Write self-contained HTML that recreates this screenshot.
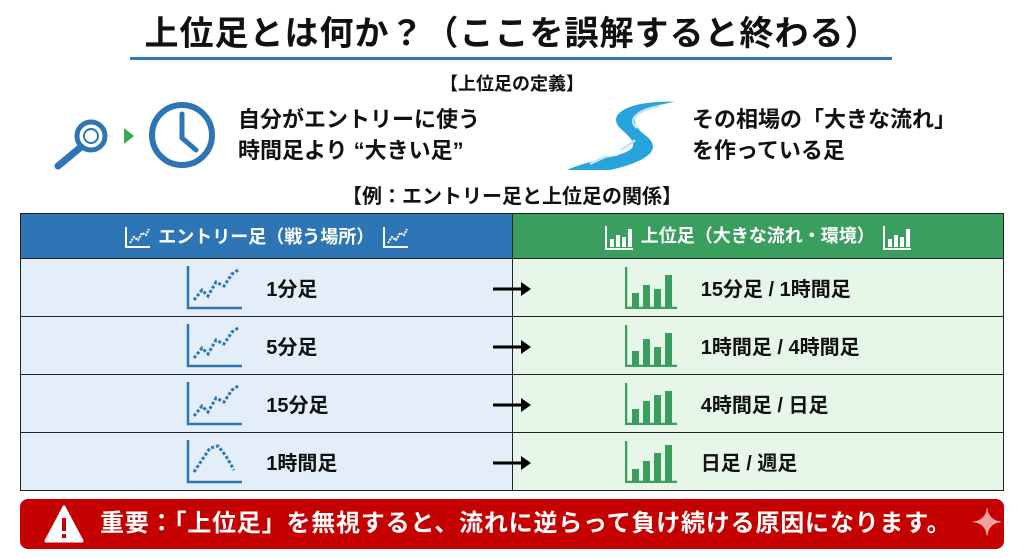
<!DOCTYPE html>
<html><head><meta charset="utf-8"><style>
*{margin:0;padding:0;box-sizing:border-box}
body{width:1024px;height:559px;background:#fff;font-family:"Liberation Sans","Noto Sans CJK JP",sans-serif;font-weight:bold;color:#111;position:relative;overflow:hidden}
.a{position:absolute;white-space:nowrap}
.title{left:0;width:1024px;top:6px;text-align:center;font-size:34px;letter-spacing:1px}
.ul{left:130px;width:762px;top:57px;height:3px;background:#2e75b6}
table{position:absolute;left:20px;top:213px;width:984px;border-collapse:collapse;table-layout:fixed}
td{border:1.5px solid #222;height:58px;font-size:20px;position:relative;white-space:nowrap}
th{height:45px;color:#fff;font-size:18px;border:1.5px solid #222;white-space:nowrap}
th svg{vertical-align:middle;margin:0 8px}
.l{background:#e3eef9;width:492px}
.r{background:#e6f7e9}
.cell{display:flex;align-items:center;justify-content:center;gap:24px}
.arr{position:absolute;left:-20px;top:20px}
</style></head><body>
<div class="a title">上位足とは何か？（ここを誤解すると終わる）</div>
<div class="a ul"></div>
<div class="a" style="left:0;width:1024px;top:70px;text-align:center;font-size:18px">【上位足の定義】</div>
<svg class="a" style="left:50px;top:98px" width="170" height="75">
<circle cx="41" cy="38" r="14" fill="#fff" stroke="#2e75b6" stroke-width="5"/><circle cx="41" cy="38" r="7" fill="none" stroke="#2e75b6" stroke-width="2"/>
<line x1="31" y1="49" x2="8" y2="68" stroke="#2e75b6" stroke-width="7" stroke-linecap="round"/>
<polygon points="74,30 84,38 74,46" fill="#3aa85c"/>
<circle cx="132" cy="37" r="30" fill="#fff" stroke="#2e75b6" stroke-width="6"/>
<polyline points="132,16 132,40 146,52" fill="none" stroke="#2e75b6" stroke-width="5" stroke-linecap="round"/>
</svg>
<div class="a" style="left:238px;top:104px;font-size:22px;line-height:31px">自分がエントリーに使う<br>時間足より “大きい足”</div>
<svg class="a" style="left:565px;top:100px" width="110" height="72">
<path d="M110,2 C70,0 40,12 55,28 C70,42 80,50 40,58 C25,62 10,66 2,70 L45,70 C80,62 100,50 80,35 C60,20 70,8 110,2Z" fill="#29a3dc"/>
<path d="M95,6 C72,10 62,20 72,28 M70,40 C60,50 40,56 25,64" fill="none" stroke="#bfe6f7" stroke-width="2.5"/>
<polygon points="38,50 58,46 52,56 42,56" fill="#fff"/>
</svg>
<div class="a" style="left:692px;top:104px;font-size:22px;line-height:31px">その相場の「大きな流れ」<br>を作っている足</div>
<div class="a" style="left:0;width:1024px;top:180px;text-align:center;font-size:20px">【例：エントリー足と上位足の関係】</div>
<table>
<tr><th style="background:#2e75b6"><svg width="26" height="22"><polyline points="2,0 2,20 26,20" fill="none" stroke="#fff" stroke-width="2"/><polyline points="6,16 10,10 14,13 18,6 22,8 25,2" fill="none" stroke="#fff" stroke-width="2" stroke-dasharray="2 1"/></svg>エントリー足（戦う場所）<svg width="26" height="22"><polyline points="2,0 2,20 26,20" fill="none" stroke="#fff" stroke-width="2"/><polyline points="6,16 10,10 14,13 18,6 22,8 25,2" fill="none" stroke="#fff" stroke-width="2" stroke-dasharray="2 1"/></svg></th><th style="background:#3a9e5f"><svg width="28" height="24"><polyline points="1,0 1,23 28,23" fill="none" stroke="#fff" stroke-width="2"/><rect x="5" y="13" width="4" height="8" fill="#fff"/><rect x="11" y="9" width="4" height="12" fill="#fff"/><rect x="17" y="11" width="4" height="10" fill="#fff"/><rect x="23" y="3" width="4" height="18" fill="#fff"/></svg>上位足（大きな流れ・環境）<svg width="28" height="24"><polyline points="1,0 1,23 28,23" fill="none" stroke="#fff" stroke-width="2"/><rect x="5" y="13" width="4" height="8" fill="#fff"/><rect x="11" y="9" width="4" height="12" fill="#fff"/><rect x="17" y="11" width="4" height="10" fill="#fff"/><rect x="23" y="3" width="4" height="18" fill="#fff"/></svg></th></tr>
<tr><td class="l"><div class="cell"><svg width="56" height="44"><polyline points="2,0 2,42 56,42" fill="none" stroke="#2e75b6" stroke-width="2.5"/><polyline points="8,34 16,24 22,30 30,16 38,20 46,8 52,4" fill="none" stroke="#2e75b6" stroke-width="3" stroke-dasharray="3 2"/></svg><span style="width:80px">1分足</span></div></td><td class="r"><svg class="arr" width="40" height="20"><line x1="0" y1="10" x2="32" y2="10" stroke="#000" stroke-width="3"/><polygon points="28,3 38,10 28,17" fill="#000"/></svg><div class="cell"><svg width="52" height="42"><polyline points="1,0 1,41 52,41" fill="none" stroke="#3a9e5f" stroke-width="2.5"/><rect x="7" y="26" width="7" height="14" fill="#3a9e5f"/><rect x="18" y="18" width="7" height="22" fill="#3a9e5f"/><rect x="29" y="22" width="7" height="18" fill="#3a9e5f"/><rect x="40" y="8" width="7" height="32" fill="#3a9e5f"/></svg><span style="width:190px">15分足 / 1時間足</span></div></td></tr>
<tr><td class="l"><div class="cell"><svg width="56" height="44"><polyline points="2,0 2,42 56,42" fill="none" stroke="#2e75b6" stroke-width="2.5"/><polyline points="8,34 16,24 22,30 30,16 38,20 46,8 52,4" fill="none" stroke="#2e75b6" stroke-width="3" stroke-dasharray="3 2"/></svg><span style="width:80px">5分足</span></div></td><td class="r"><svg class="arr" width="40" height="20"><line x1="0" y1="10" x2="32" y2="10" stroke="#000" stroke-width="3"/><polygon points="28,3 38,10 28,17" fill="#000"/></svg><div class="cell"><svg width="52" height="42"><polyline points="1,0 1,41 52,41" fill="none" stroke="#3a9e5f" stroke-width="2.5"/><rect x="7" y="26" width="7" height="14" fill="#3a9e5f"/><rect x="18" y="14" width="7" height="26" fill="#3a9e5f"/><rect x="29" y="22" width="7" height="18" fill="#3a9e5f"/><rect x="40" y="8" width="7" height="32" fill="#3a9e5f"/></svg><span style="width:190px">1時間足 / 4時間足</span></div></td></tr>
<tr><td class="l"><div class="cell"><svg width="56" height="44"><polyline points="2,0 2,42 56,42" fill="none" stroke="#2e75b6" stroke-width="2.5"/><polyline points="8,34 16,24 22,30 30,16 38,20 46,8 52,4" fill="none" stroke="#2e75b6" stroke-width="3" stroke-dasharray="3 2"/></svg><span style="width:80px">15分足</span></div></td><td class="r"><svg class="arr" width="40" height="20"><line x1="0" y1="10" x2="32" y2="10" stroke="#000" stroke-width="3"/><polygon points="28,3 38,10 28,17" fill="#000"/></svg><div class="cell"><svg width="52" height="42"><polyline points="1,0 1,41 52,41" fill="none" stroke="#3a9e5f" stroke-width="2.5"/><rect x="7" y="26" width="7" height="14" fill="#3a9e5f"/><rect x="18" y="18" width="7" height="22" fill="#3a9e5f"/><rect x="29" y="12" width="7" height="28" fill="#3a9e5f"/><rect x="40" y="8" width="7" height="32" fill="#3a9e5f"/></svg><span style="width:190px">4時間足 / 日足</span></div></td></tr>
<tr><td class="l"><div class="cell"><svg width="56" height="44"><polyline points="2,0 2,42 56,42" fill="none" stroke="#2e75b6" stroke-width="2.5"/><polyline points="8,32 16,20 24,8 32,6 40,16 48,30" fill="none" stroke="#2e75b6" stroke-width="3" stroke-dasharray="3 2"/></svg><span style="width:80px">1時間足</span></div></td><td class="r"><svg class="arr" width="40" height="20"><line x1="0" y1="10" x2="32" y2="10" stroke="#000" stroke-width="3"/><polygon points="28,3 38,10 28,17" fill="#000"/></svg><div class="cell"><svg width="52" height="42"><polyline points="1,0 1,41 52,41" fill="none" stroke="#3a9e5f" stroke-width="2.5"/><rect x="7" y="28" width="7" height="12" fill="#3a9e5f"/><rect x="18" y="20" width="7" height="20" fill="#3a9e5f"/><rect x="29" y="12" width="7" height="28" fill="#3a9e5f"/><rect x="40" y="4" width="7" height="36" fill="#3a9e5f"/></svg><span style="width:190px">日足 / 週足</span></div></td></tr>
</table>
<div class="a" style="left:20px;top:499px;width:984px;height:50px;background:#c40000;border-radius:8px;color:#fff;font-size:24px;letter-spacing:0.8px;line-height:50px;padding-left:80px">重要：「上位足」を無視すると、流れに逆らって負け続ける原因になります。</div>
<svg class="a" style="left:44px;top:505px" width="40" height="38"><polygon points="20,2 38,36 2,36" fill="#fff" stroke="#fff" stroke-linejoin="round" stroke-width="3"/><rect x="18" y="13" width="4" height="13" fill="#c40000"/><rect x="18" y="29" width="4" height="4" fill="#c40000"/></svg>
<div class="a" style="left:972px;top:502px;font-size:36px;color:#f3a0a0">✦</div>
</body></html>
